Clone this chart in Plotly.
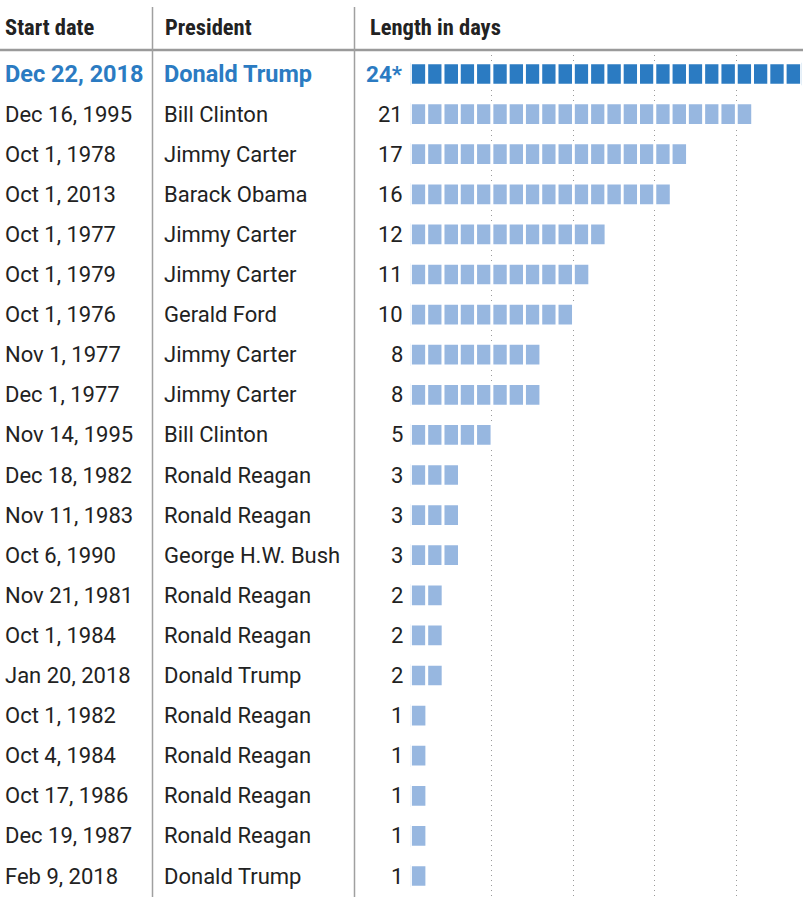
import plotly.graph_objects as go

start_dates = ["Dec 22, 2018", "Dec 16, 1995", "Oct 1, 1978", "Oct 1, 2013", "Oct 1, 1977",
               "Oct 1, 1979", "Oct 1, 1976", "Nov 1, 1977", "Dec 1, 1977", "Nov 14, 1995",
               "Dec 18, 1982", "Nov 11, 1983", "Oct 6, 1990", "Nov 21, 1981", "Oct 1, 1984",
               "Jan 20, 2018", "Oct 1, 1982", "Oct 4, 1984", "Oct 17, 1986", "Dec 19, 1987",
               "Feb 9, 2018"]
presidents = ["Donald Trump", "Bill Clinton", "Jimmy Carter", "Barack Obama", "Jimmy Carter",
              "Jimmy Carter", "Gerald Ford", "Jimmy Carter", "Jimmy Carter", "Bill Clinton",
              "Ronald Reagan", "Ronald Reagan", "George H.W. Bush", "Ronald Reagan", "Ronald Reagan",
              "Donald Trump", "Ronald Reagan", "Ronald Reagan", "Ronald Reagan", "Ronald Reagan",
              "Donald Trump"]
days = [24, 21, 17, 16, 12, 11, 10, 8, 8, 5, 3, 3, 3, 2, 2, 2, 1, 1, 1, 1, 1]
day_labels = ["24*", "21", "17", "16", "12", "11", "10", "8", "8", "5", "3", "3", "3",
              "2", "2", "2", "1", "1", "1", "1", "1"]
headers = ["Start date", "President", "Length in days"]
highlight_row = 0

W, H = 803, 897
BLUE = "#2b7bc2"
LIGHT = "#97b7e0"
DARK = "#222222"
BODY_FONT = "Roboto, Arial, sans-serif"
HEAD_FONT = "'Roboto Condensed', 'Liberation Sans Narrow', Roboto, sans-serif"

row_y0 = 74.0
row_step = 40.1
plot_top = 55.0
x_left_px, x_right_px = 410.5, 801.5
xmax = 24

fig = go.Figure()

# unit squares
for hl in (False, True):
    ys, bases = [], []
    for i, d in enumerate(days):
        if (i == highlight_row) != hl:
            continue
        for k in range(d):
            ys.append(i)
            bases.append(k)
    fig.add_trace(go.Bar(
        y=ys, x=[1] * len(ys), base=bases, orientation="h",
        width=0.56,
        marker=dict(color=BLUE if hl else LIGHT, line=dict(color="white", width=2.8)),
        hoverinfo="skip", showlegend=False,
    ))

y_top = (plot_top - row_y0) / row_step
y_bot = (H - row_y0) / row_step

fig.update_layout(
    width=W, height=H,
    margin=dict(l=0, r=0, t=0, b=0),
    paper_bgcolor="white", plot_bgcolor="white",
    barmode="overlay",
    xaxis=dict(domain=[x_left_px / W, x_right_px / W], range=[0, xmax],
               showgrid=True, dtick=5, tick0=0, gridcolor="#9a9a9a", gridwidth=1,
               griddash="1px,4px", zeroline=False, showticklabels=False, ticks="",
               fixedrange=True),
    yaxis=dict(domain=[0, 1 - plot_top / H], range=[y_bot, y_top],
               showgrid=False, zeroline=False, showticklabels=False, ticks="",
               fixedrange=True),
)

annotations = []
for i in range(len(days)):
    hl = i == highlight_row
    col = BLUE if hl else DARK
    weight = "bold" if hl else "normal"
    fnt = dict(family=BODY_FONT, size=23.5 if hl else 22, color=col, weight=weight)
    annotations.append(dict(xref="paper", yref="y", x=2.5 / W, y=i, text=start_dates[i],
                            xanchor="left", yanchor="middle", showarrow=False, font=fnt))
    annotations.append(dict(xref="paper", yref="y", x=162 / W, y=i, text=presidents[i],
                            xanchor="left", yanchor="middle", showarrow=False, font=fnt))
    lab_fnt = dict(fnt, size=22.5 if hl else 22)
    annotations.append(dict(xref="paper", yref="y", x=405 / W, y=i, text=day_labels[i],
                            xanchor="right", yanchor="middle", showarrow=False, font=lab_fnt))

head_x = [3, 163, 368]
for hx, ht in zip(head_x, headers):
    annotations.append(dict(xref="paper", yref="paper", x=hx / W, y=1 - 27 / H, text=ht,
                            xanchor="left", yanchor="middle", showarrow=False,
                            font=dict(family=HEAD_FONT, size=22.5, color=DARK, weight="bold")))
fig.update_layout(annotations=annotations)

shapes = [
    dict(type="line", xref="paper", yref="paper", x0=0, x1=1, y0=1 - 50 / H, y1=1 - 50 / H,
         line=dict(color="#9a9a9a", width=2.5)),
]
for sx in (152.5, 354.5):
    shapes.append(dict(type="line", xref="paper", yref="paper", x0=sx / W, x1=sx / W,
                       y0=0, y1=1 - 7 / H, line=dict(color="#a0a0a0", width=1.5)))
fig.update_layout(shapes=shapes)

fig.write_html("out.html", config={"displayModeBar": False},
               post_script="document.body.style.margin='0';")
